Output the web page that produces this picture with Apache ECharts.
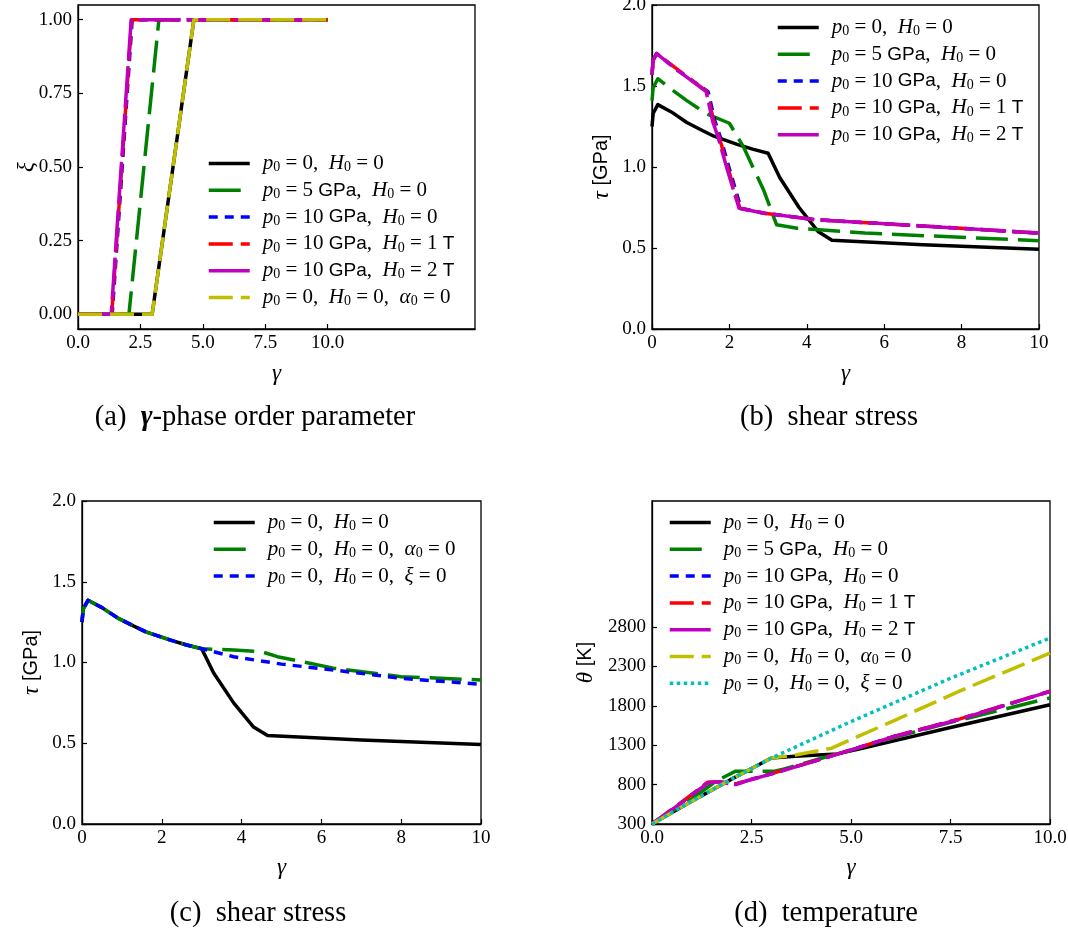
<!DOCTYPE html>
<html><head><meta charset="utf-8">
<script src="https://cdn.jsdelivr.net/npm/echarts@6/dist/echarts.min.js"></script>
<style>html,body{margin:0;padding:0;background:#fff}#c{width:1068px;height:940px}</style>
</head><body><div id="c"></div>
<script>
// ---------------- tick labels ----------------
const aTicksX = [0, 2.5, 5, 7.5, 10];
const aTicksY = [0, 0.25, 0.5, 0.75, 1];
const tauTicksX = [0, 2, 4, 6, 8, 10];
const tauTicksY = [0, 0.5, 1, 1.5, 2];
const dTicksX = [0, 2.5, 5, 7.5, 10];
const dTicksY = [300, 800, 1300, 1800, 2300, 2800];

// ---------------- (a) gamma-phase order parameter ----------------
const a_black_x = [0, 2.97, 4.64, 10];
const a_black_y = [0, 0, 1, 1];
const a_green_x = [0, 2.04, 3.24, 10];
const a_green_y = [0, 0, 1, 1];
const a_blue_x = [0, 1.37, 2.17, 10];
const a_blue_y = [0, 0, 1, 1];
const a_red_x = [0, 1.35, 2.15, 10];
const a_red_y = [0, 0, 1, 1];
const a_mag_x = [0, 1.33, 2.13, 10];
const a_mag_y = [0, 0, 1, 1];
const a_yel_x = [0, 2.97, 4.64, 10];
const a_yel_y = [0, 0, 1, 1];

// ---------------- (b) shear stress ----------------
const b_black_x = [0, 0.03, 0.15, 0.5, 0.9, 1.3, 1.6, 2.2, 2.6, 3.0, 3.3, 3.8, 4.3, 4.65, 7, 10];
const b_black_y = [1.25, 1.33, 1.385, 1.34, 1.275, 1.225, 1.19, 1.14, 1.11, 1.085, 0.935, 0.75, 0.60, 0.548, 0.52, 0.492];
const b_green_x = [0, 0.03, 0.15, 0.5, 0.9, 1.4, 2.0, 2.36, 2.88, 3.22, 3.75, 5.5, 10];
const b_green_y = [1.41, 1.49, 1.545, 1.48, 1.41, 1.33, 1.27, 1.126, 0.86, 0.643, 0.622, 0.592, 0.545];
const b_blue_x = [0, 0.03, 0.12, 0.7, 1.45, 1.63, 1.76, 2.01, 2.3, 2.9, 4.2, 7.2, 10];
const b_blue_y = [1.57, 1.66, 1.70, 1.59, 1.465, 1.28, 1.19, 0.98, 0.745, 0.715, 0.675, 0.633, 0.592];
const b_red_x = [0, 0.03, 0.12, 0.7, 1.42, 1.6, 1.73, 1.98, 2.27, 2.9, 4.2, 7.2, 10];
const b_red_y = [1.57, 1.66, 1.70, 1.595, 1.465, 1.28, 1.19, 0.98, 0.745, 0.715, 0.675, 0.633, 0.592];
const b_mag_x = [0, 0.03, 0.12, 0.7, 1.4, 1.57, 1.7, 1.95, 2.25, 2.9, 4.2, 7.2, 10];
const b_mag_y = [1.57, 1.66, 1.70, 1.59, 1.465, 1.28, 1.19, 0.98, 0.745, 0.715, 0.675, 0.633, 0.592];

// ---------------- (c) shear stress ----------------
const c_black_x = [0, 0.03, 0.15, 0.5, 0.9, 1.3, 1.6, 2.2, 2.6, 3.0, 3.3, 3.8, 4.3, 4.65, 7, 10];
const c_black_y = [1.25, 1.33, 1.385, 1.34, 1.275, 1.225, 1.19, 1.14, 1.11, 1.085, 0.935, 0.75, 0.60, 0.548, 0.52, 0.492];
const c_green_x = [0, 0.03, 0.15, 0.5, 0.9, 1.3, 1.6, 2.2, 2.6, 3.0, 3.8, 4.5, 4.9, 6.3, 8.0, 10];
const c_green_y = [1.25, 1.33, 1.385, 1.34, 1.275, 1.225, 1.19, 1.14, 1.11, 1.085, 1.077, 1.067, 1.036, 0.965, 0.912, 0.892];
const c_blue_x = [0, 0.03, 0.15, 0.5, 0.9, 1.3, 1.6, 2.2, 2.6, 3.0, 3.8, 5.0, 6.3, 8.0, 10];
const c_blue_y = [1.25, 1.33, 1.385, 1.34, 1.275, 1.225, 1.19, 1.14, 1.11, 1.085, 1.036, 0.99, 0.954, 0.902, 0.865];

// ---------------- (d) temperature ----------------
const d_black_x = [0, 1, 2, 3.0, 3.6, 4.65, 5.2, 7.5, 10];
const d_black_y = [300, 590, 870, 1137, 1160, 1190, 1250, 1525, 1814];
const d_green_x = [0, 1.0, 1.63, 2.09, 3.05, 3.3, 4.5, 6.0, 7.5, 10];
const d_green_y = [300, 620, 850, 968, 968, 995, 1170, 1385, 1590, 1900];
const d_blue_x = [0, 0.7, 1.4, 1.65, 2.1, 2.45, 3.05, 4.31, 5.0, 6.07, 7.74, 10];
const d_blue_y = [300, 555, 825, 838, 805, 860, 944, 1134, 1240, 1410, 1632, 1983];
const d_red_x = [0, 0.7, 1.4, 1.65, 2.1, 2.45, 3.05, 4.31, 5.0, 6.07, 7.74, 10];
const d_red_y = [300, 560, 830, 835, 810, 860, 945, 1135, 1240, 1410, 1635, 1985];
const d_mag_x = [0, 0.7, 1.4, 1.65, 2.1, 2.45, 3.05, 4.31, 5.0, 6.07, 7.74, 10];
const d_mag_y = [300, 555, 820, 835, 800, 858, 942, 1132, 1238, 1408, 1630, 1983];
const d_yel_x = [0, 1, 2, 3.0, 3.6, 4.5, 6.07, 7.74, 10];
const d_yel_y = [300, 590, 870, 1137, 1175, 1260, 1610, 1990, 2469];
const d_cyan_x = [0, 1, 2, 3.0, 5.0, 7.5, 10];
const d_cyan_y = [300, 590, 870, 1137, 1600, 2150, 2660];

// ---------------- legend labels (rich text) ----------------
const LABELS = {
  base:  '{m|p}{s|0}{r| = 0,  }{m|H}{s|0}{r| = 0}',
  p5:    '{m|p}{s|0}{r| = 5 }{g|GPa}{r|,  }{m|H}{s|0}{r| = 0}',
  p10:   '{m|p}{s|0}{r| = 10 }{g|GPa}{r|,  }{m|H}{s|0}{r| = 0}',
  p10h1: '{m|p}{s|0}{r| = 10 }{g|GPa}{r|,  }{m|H}{s|0}{r| = 1 }{g|T}',
  p10h2: '{m|p}{s|0}{r| = 10 }{g|GPa}{r|,  }{m|H}{s|0}{r| = 2 }{g|T}',
  alpha: '{m|p}{s|0}{r| = 0,  }{m|H}{s|0}{r| = 0,  }{m|α}{s|0}{r| = 0}',
  xi:    '{m|p}{s|0}{r| = 0,  }{m|H}{s|0}{r| = 0,  }{m|ξ}{r| = 0}'
};

// ---------------- styles ----------------
const STY = {
  black:   {color: '#000000', type: 'solid'},
  green:   {color: '#008000', type: [32, 10]},
  blue:    {color: '#0000ff', type: [9, 7]},
  red:     {color: '#ff0000', type: [24, 8]},
  magenta: {color: '#bf00bf', type: [42, 6]},
  yellow:  {color: '#bfbf00', type: [24, 8]},
  cyan:    {color: '#00bfbf', type: [3.5, 3.5]}
};

const PANELS = [
  [['base', a_black_x, a_black_y, 'black'], ['p5', a_green_x, a_green_y, 'green'], ['p10', a_blue_x, a_blue_y, 'blue'],
   ['p10h1', a_red_x, a_red_y, 'red'], ['p10h2', a_mag_x, a_mag_y, 'magenta'], ['alpha', a_yel_x, a_yel_y, 'yellow']],
  [['base', b_black_x, b_black_y, 'black'], ['p5', b_green_x, b_green_y, 'green'], ['p10', b_blue_x, b_blue_y, 'blue'],
   ['p10h1', b_red_x, b_red_y, 'red'], ['p10h2', b_mag_x, b_mag_y, 'magenta']],
  [['base', c_black_x, c_black_y, 'black'], ['alpha', c_green_x, c_green_y, 'green'], ['xi', c_blue_x, c_blue_y, 'blue']],
  [['base', d_black_x, d_black_y, 'black'], ['p5', d_green_x, d_green_y, 'green'], ['p10', d_blue_x, d_blue_y, 'blue'],
   ['p10h1', d_red_x, d_red_y, 'red'], ['p10h2', d_mag_x, d_mag_y, 'magenta'], ['alpha', d_yel_x, d_yel_y, 'yellow'],
   ['xi', d_cyan_x, d_cyan_y, 'cyan']]
];

// ---------------- build ----------------
const SERIF = 'Liberation Serif';
const SANS = 'Liberation Sans';
const LW = 3.5;
const richText = {
  m: {fontFamily: SERIF, fontStyle: 'italic', fontSize: 21, lineHeight: 22, color: '#000'},
  r: {fontFamily: SERIF, fontSize: 21, lineHeight: 22, color: '#000'},
  s: {fontFamily: SERIF, fontSize: 14, lineHeight: 13, verticalAlign: 'bottom', color: '#000'},
  g: {fontFamily: SANS, fontSize: 19, lineHeight: 22, color: '#000'}
};
const grids = [
  {left: 78, top: 5, width: 397, height: 324},
  {left: 652, top: 5, width: 387, height: 324},
  {left: 82, top: 501, width: 399, height: 323},
  {left: 652, top: 501, width: 398, height: 323}
].map(g => Object.assign({show: true, borderColor: '#000', borderWidth: 1.3, backgroundColor: 'transparent', outerBoundsMode: 'none', containLabel: false}, g));

const tickLbl = {fontFamily: SERIF, fontSize: 19, color: '#000'};
function xAx(i, min, max, ticks, fmt, gap) {
  return {type: 'value', gridIndex: i, min: min, max: max,
    name: 'γ', nameLocation: 'middle', nameGap: gap, nameMoveOverlap: false,
    nameTextStyle: {fontFamily: SERIF, fontStyle: 'italic', fontSize: 23, color: '#000'},
    axisLine: {show: true, onZero: false, lineStyle: {color: '#000', width: 1.3}},
    axisTick: {show: true, inside: true, length: 5, customValues: ticks, lineStyle: {color: '#000', width: 1.2}},
    axisLabel: {show: true, margin: 5, customValues: ticks, formatter: fmt, ...tickLbl},
    splitLine: {show: false}};
}
function yAx(i, min, max, ticks, fmt, name, gap) {
  return {type: 'value', gridIndex: i, min: min, max: max,
    name: name, nameLocation: 'middle', nameGap: gap, nameMoveOverlap: false,
    nameTextStyle: {fontFamily: SERIF, fontStyle: 'italic', fontSize: 23, color: '#000',
      rich: {m: {fontFamily: SERIF, fontStyle: 'italic', fontSize: 23, color: '#000'},
             g: {fontFamily: SANS, fontStyle: 'normal', fontSize: 20, color: '#000'}}},
    axisLine: {show: true, onZero: false, lineStyle: {color: '#000', width: 1.3}},
    axisTick: {show: true, inside: true, length: 5, customValues: ticks, lineStyle: {color: '#000', width: 1.2}},
    axisLabel: {show: true, margin: 6, customValues: ticks, formatter: fmt, ...tickLbl},
    splitLine: {show: false}};
}
const xAxes = [
  xAx(0, 0, 15.9, aTicksX, v => v.toFixed(1), 33),
  xAx(1, 0, 10, tauTicksX, v => String(v), 33),
  xAx(2, 0, 10, tauTicksX, v => String(v), 32),
  xAx(3, 0, 10, dTicksX, v => v.toFixed(1), 32)
];
const yAxes = [
  yAx(0, -0.05, 1.05, aTicksY, v => v.toFixed(2), 'ξ', 40),
  yAx(1, 0, 2, tauTicksY, v => v.toFixed(1), '{m|τ} {g|[GPa]}', 39),
  yAx(2, 0, 2, tauTicksY, v => v.toFixed(1), '{m|τ} {g|[GPa]}', 39),
  yAx(3, 300, 4400, dTicksY, v => String(v), '{m|θ} {g|[K]}', 55)
];

const series = [];
const legendData = [[], [], [], []];
PANELS.forEach((items, p) => {
  items.forEach(([key, xs, ys, sty]) => {
    const name = key + '#' + p;
    legendData[p].push(name);
    series.push({
      type: 'line', name: name, xAxisIndex: p, yAxisIndex: p,
      data: xs.map((x, k) => [x, ys[k]]),
      symbol: 'none', silent: true, animation: false,
      lineStyle: {color: STY[sty].color, width: LW, type: STY[sty].type, cap: 'butt', join: 'round'},
      itemStyle: {color: STY[sty].color}
    });
  });
});

const legPos = [
  {left: 207, top: 153},
  {left: 776, top: 17},
  {left: 212, top: 512},
  {left: 668, top: 512}
];
const legends = legPos.map((pos, p) => ({
  data: legendData[p], orient: 'vertical', left: pos.left, top: pos.top, padding: 0,
  itemWidth: 41, itemHeight: 14, itemGap: 5.3, selectedMode: false,
  itemStyle: {opacity: 0, borderWidth: 0},
  lineStyle: {width: 'inherit', opacity: 1},
  formatter: name => LABELS[name.split('#')[0]],
  textStyle: {rich: richText, padding: [0, 0, 0, 8]}
}));

const capRich = {
  n: {fontFamily: SERIF, fontSize: 28.5, color: '#000'},
  b: {fontFamily: SERIF, fontSize: 28.5, fontStyle: 'italic', fontWeight: 'bold', color: '#000'}
};
const captions = [
  {x: 255, y: 418, t: '{n|(a)  }{b|γ}{n|-phase order parameter}'},
  {x: 829, y: 418, t: '{n|(b)  shear stress}'},
  {x: 258, y: 914, t: '{n|(c)  shear stress}'},
  {x: 826, y: 914, t: '{n|(d)  temperature}'}
];

const chart = echarts.init(document.getElementById('c'), null, {renderer: 'canvas'});
chart.setOption({
  animation: false,
  backgroundColor: '#ffffff',
  grid: grids,
  xAxis: xAxes,
  yAxis: yAxes,
  legend: legends,
  series: series,
  graphic: captions.map(c => ({type: 'text', x: c.x, y: c.y,
    style: {text: c.t, rich: capRich, align: 'center', verticalAlign: 'middle'}}))
});
</script></body></html>
